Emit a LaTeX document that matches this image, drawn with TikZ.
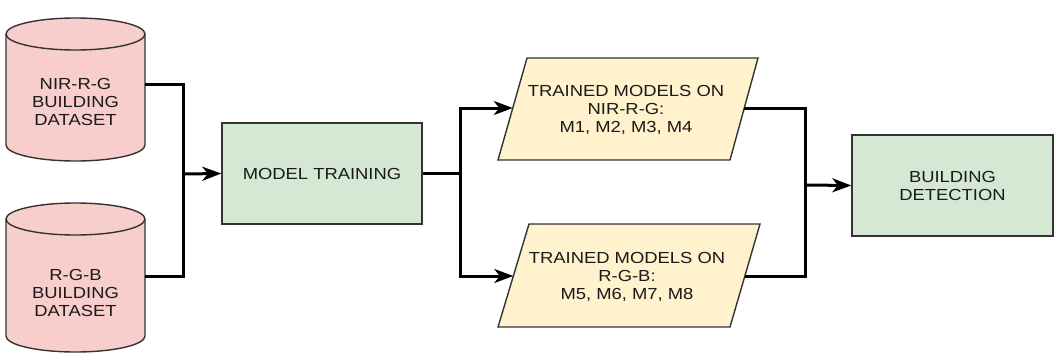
\documentclass[tikz,border=0pt]{standalone}
\usepackage{fontspec}
\setmainfont{Liberation Sans}[FakeStretch=1.15]
\usetikzlibrary{arrows.meta}
\definecolor{pinkf}{HTML}{F8CECC}
\definecolor{greenf}{HTML}{D5E8D4}
\definecolor{yelf}{HTML}{FFF2CC}
\definecolor{edgec}{HTML}{333333}
\definecolor{txtc}{HTML}{1A1A1A}
\begin{document}
\begin{tikzpicture}[x=1pt,y=-1pt,
  shapeline/.style={draw=edgec,line width=1.4pt},
  conn/.style={line width=3pt,draw=black,-{Stealth[length=19pt,width=14pt,inset=5.5pt]}},
  plainline/.style={line width=3pt,draw=black},
  lbl/.style={text=txtc,align=center,font=\fontsize{16}{18}\selectfont,inner sep=0pt},
  greenbox/.style={shapeline,fill=greenf,minimum width=200pt,minimum height=101pt,lbl}]
\useasboundingbox (0,0) rectangle (1058,364);

% cylinders
\foreach \t/\b in {34/145, 219/336}{
  \path[fill=pinkf] (6,\t) -- (6,\b) arc[start angle=180,end angle=0,x radius=69.5,y radius=16]
     -- (145,\t) arc[start angle=0,end angle=-180,x radius=69.5,y radius=16] -- cycle;
  \draw[shapeline] (6,\t) -- (6,\b) arc[start angle=180,end angle=0,x radius=69.5,y radius=16]
     -- (145,\t) arc[start angle=0,end angle=-180,x radius=69.5,y radius=16];
  \draw[shapeline] (6,\t) arc[start angle=180,end angle=0,x radius=69.5,y radius=16];
}
\node[lbl] (c1) at (75.5,102) {NIR-R-G\\BUILDING\\DATASET};
\node[lbl] (c2) at (75.5,293) {R-G-B\\BUILDING\\DATASET};
\coordinate (c1e) at (145,84);
\coordinate (c2e) at (145,276);

% model training
\node[greenbox] (mt) at (322,173.5) {MODEL TRAINING};

% parallelograms
\draw[shapeline,fill=yelf] (498,160) -- (730,160) -- (758,58) -- (527,58) -- cycle;
\draw[shapeline,fill=yelf] (498,327) -- (730,327) -- (760,224) -- (529,224) -- cycle;
\node[lbl] (p1) at (626,110) {TRAINED MODELS ON\\NIR-R-G:\\M1, M2, M3, M4};
\node[lbl] (p2) at (627,277) {TRAINED MODELS ON\\R-G-B:\\M5, M6, M7, M8};
\coordinate (p1w) at (512.8,108);
\coordinate (p2w) at (513.3,276);
\coordinate (p1e) at (744.3,108);
\coordinate (p2e) at (744.9,276);

% building detection
\node[greenbox,minimum width=201pt] (bd) at (952.5,185.5) {BUILDING\\DETECTION};

% connectors
\coordinate (j1) at (183,174);
\coordinate (j2) at (460,173.5);
\coordinate (j3) at (805,185);
\draw[plainline] (c1e) -| (j1);
\draw[plainline] (c2e) -| (j1);
\draw[conn] (j1) -- (mt.west);
\draw[plainline] (mt.east) -- (j2);
\draw[conn] (j2) |- (p1w);
\draw[conn] (j2) |- (p2w);
\draw[plainline] (p1e) -| (j3);
\draw[plainline] (p2e) -| (j3);
\draw[conn] (j3) -- (bd.west);
\end{tikzpicture}
\end{document}
